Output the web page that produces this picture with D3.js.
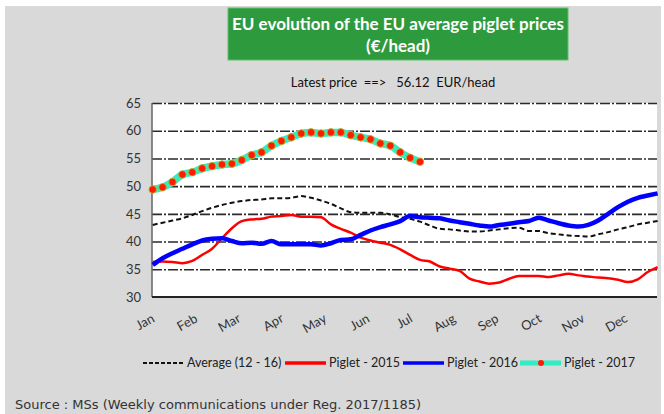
<!DOCTYPE html>
<html>
<head>
<meta charset="utf-8">
<script src="https://cdn.jsdelivr.net/npm/d3@7"></script>
<style>
  body { margin: 0; background: #fff; }
  svg text { font-family: Lato, "Open Sans", sans-serif; fill: #333; }
</style>
</head>
<body>
<svg id="chart" width="664" height="414"></svg>
<script>
// data (weekly prices, EUR/head)
const months = ["Jan", "Feb", "Mar", "Apr", "May", "Jun", "Jul", "Aug", "Sep", "Oct", "Nov", "Dec"];
const weeks = d3.range(1, 53);
const yTicks = [30, 35, 40, 45, 50, 55, 60, 65];
const latestPrice = "56.12";

const average1216 = [43.0, 43.4, 43.8, 44.2, 44.8, 45.5, 46.1, 46.6, 47.0, 47.3,
  47.5, 47.6, 47.8, 47.8, 47.9, 48.2, 47.9, 47.4, 46.8, 46.0,
  45.3, 45.2, 45.2, 45.2, 44.9, 44.4, 44.1, 43.6, 42.9, 42.3,
  42.2, 42.0, 41.8, 41.8, 42.0, 42.2, 42.4, 42.5, 41.9, 41.9,
  41.5, 41.3, 41.1, 41.0, 40.9, 41.3, 41.7, 42.2, 42.6, 43.1,
  43.4, 43.7];
const piglet2015 = [36.3, 36.4, 36.3, 36.1, 36.5, 37.6, 38.7, 40.6, 42.4, 43.7,
  44.0, 44.1, 44.5, 44.6, 44.8, 44.5, 44.5, 44.4, 43.1, 42.3,
  41.6, 40.7, 40.2, 39.8, 39.4, 38.6, 37.6, 36.7, 36.4, 35.5,
  35.1, 34.7, 33.3, 32.8, 32.4, 32.6, 33.3, 33.8, 33.8, 33.8,
  33.6, 33.9, 34.2, 33.9, 33.7, 33.5, 33.4, 33.1, 32.7, 33.2,
  34.5, 35.4];
const piglet2016 = [35.8, 37.0, 37.9, 38.7, 39.5, 40.2, 40.5, 40.6, 40.1, 39.7,
  39.8, 39.6, 40.1, 39.5, 39.5, 39.5, 39.5, 39.3, 39.7, 40.3,
  40.4, 41.2, 42.0, 42.6, 43.1, 43.7, 44.6, 44.4, 44.3, 44.2,
  43.8, 43.5, 43.2, 42.9, 42.7, 43.0, 43.2, 43.5, 43.7, 44.3,
  43.8, 43.3, 42.9, 42.7, 43.0, 43.8, 45.0, 46.2, 47.2, 47.9,
  48.3, 48.7];
const piglet2017 = [49.4, 49.8, 50.75, 52.1, 52.5, 53.2, 53.6, 53.9, 54.05, 54.7,
  55.6, 56.1, 57.3, 58.15, 58.8, 59.5, 59.7, 59.5, 59.7, 59.7,
  59.2, 58.8, 58.45, 57.7, 57.3, 56.1, 55.1, 54.4];

const series = [
  { name: "Average (12 - 16)", values: average1216, color: "#111", width: 2, dash: "5,3" },
  { name: "Piglet - 2015", values: piglet2015, color: "#ff0000", width: 2.5 },
  { name: "Piglet - 2016", values: piglet2016, color: "#0000ff", width: 4.5 },
  { name: "Piglet - 2017", values: piglet2017, color: "#30eec4", width: 7.5, dots: true }
];

const svg = d3.select("#chart");
const plot = { left: 152, right: 657, top: 103, bottom: 297 };

// grey page behind everything
svg.append("rect").attr("x", 5).attr("y", 6).attr("width", 656).attr("height", 408).attr("fill", "#d9d9d9");

// title box
svg.append("rect").attr("x", 228).attr("y", 8).attr("width", 340).attr("height", 52)
  .attr("fill", "#2e9a3e").attr("stroke", "#5fbf6a").attr("stroke-width", 1);
svg.append("text").attr("x", 398).attr("y", 30).attr("text-anchor", "middle")
  .style("font-size", "17px").style("font-weight", "bold").style("fill", "#fff")
  .text("EU evolution of the EU average piglet prices");
svg.append("text").attr("x", 398).attr("y", 52).attr("text-anchor", "middle")
  .style("font-size", "17px").style("font-weight", "bold").style("fill", "#fff")
  .text("(€/head)");

svg.append("text").attr("x", 393).attr("y", 87).attr("text-anchor", "middle")
  .style("font-size", "13px").style("fill", "#111").style("white-space", "pre")
  .text(`Latest price  ==>   ${latestPrice}  EUR/head`);

const x = d3.scaleLinear().domain([1, 52]).range([152.7, 657.6]);
const y = d3.scaleLinear().domain([30, 65]).range([plot.bottom, plot.top]);
const xMonth = d3.scalePoint().domain(months).range([155, 628]);

svg.append("rect").attr("x", plot.left).attr("y", plot.top)
  .attr("width", plot.right - plot.left).attr("height", plot.bottom - plot.top).attr("fill", "#fff");

// gridlines
const grid = svg.append("g").attr("transform", `translate(${plot.left},0)`)
  .call(d3.axisLeft(y).tickValues(yTicks.filter(d => d > 30)).tickSize(-(plot.right - plot.left)).tickFormat(""));
grid.select(".domain").remove();
grid.selectAll("line").attr("stroke", "#2a2a2a").attr("stroke-width", 1.6).attr("stroke-dasharray", "10,2,2,2");

// y labels
const yAxis = svg.append("g").attr("transform", `translate(${plot.left},0)`)
  .call(d3.axisLeft(y).tickValues(yTicks).tickSize(0).tickPadding(11));
yAxis.select(".domain").remove();
yAxis.selectAll("text").style("font-size", "13px").style("font-family", "Lato, sans-serif").attr("fill", "#333");

// month labels
const xAxis = svg.append("g").attr("transform", `translate(0,${plot.bottom})`)
  .call(d3.axisBottom(xMonth).tickSize(0));
xAxis.select(".domain").remove();
xAxis.selectAll("text")
  .attr("y", 0).attr("dy", 0)
  .attr("transform", "translate(0,24) rotate(-30)")
  .attr("text-anchor", "end")
  .style("font-size", "13px").style("font-family", "Lato, sans-serif").attr("fill", "#333");

// axis frame
svg.append("line").attr("x1", plot.left).attr("x2", plot.left).attr("y1", plot.top).attr("y2", plot.bottom)
  .attr("stroke", "#666").attr("stroke-width", 1.5);
svg.append("line").attr("x1", plot.left).attr("x2", plot.right).attr("y1", plot.bottom).attr("y2", plot.bottom)
  .attr("stroke", "#222").attr("stroke-width", 2);

const line = d3.line().x((d, i) => x(weeks[i])).y(d => y(d)).curve(d3.curveMonotoneX);

series.forEach(s => {
  svg.append("path").datum(s.values)
    .attr("fill", "none").attr("stroke", s.color).attr("stroke-width", s.width)
    .attr("stroke-dasharray", s.dash || null).attr("stroke-linejoin", "round")
    .attr("d", line);
  if (s.dots) {
    svg.selectAll(null).data(s.values).enter().append("circle")
      .attr("cx", (d, i) => x(weeks[i])).attr("cy", d => y(d)).attr("r", 3.8)
      .attr("fill", "#ff1a00").attr("stroke", "#b5c23a").attr("stroke-width", 0.8);
  }
});

// legend
const legendX = [143, 285, 403, 520];
const legend = svg.append("g").attr("transform", "translate(0,363)");
series.forEach((s, i) => {
  const g = legend.append("g").attr("transform", `translate(${legendX[i]},0)`);
  g.append("line").attr("x1", 0).attr("x2", 41).attr("stroke", s.color)
    .attr("stroke-width", s.dots ? 5 : (s.dash ? 2 : 3.5)).attr("stroke-dasharray", s.dash ? "4,2" : null);
  if (s.dots) g.append("circle").attr("cx", 21).attr("r", 3).attr("fill", "#ff1a00");
  g.append("text").attr("x", 44).attr("dy", "0.35em").style("font-size", "12.5px").style("fill", "#222").text(s.name);
});

svg.append("text").attr("x", 15).attr("y", 409)
  .style("font-family", "DejaVu Sans, sans-serif").style("font-size", "13px").style("fill", "#333")
  .text("Source : MSs (Weekly communications under Reg. 2017/1185)");
</script>
</body>
</html>
